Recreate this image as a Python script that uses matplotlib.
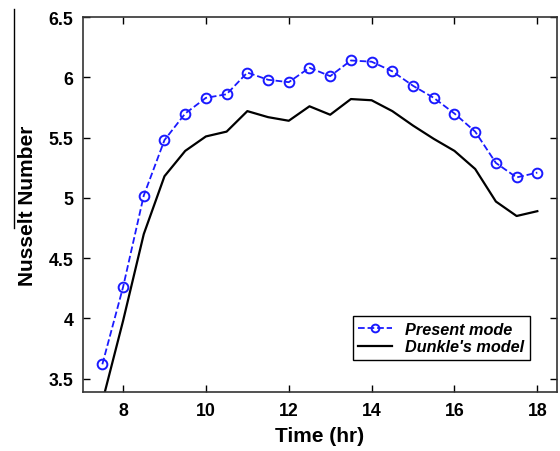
import matplotlib
matplotlib.use("Agg")
import matplotlib.pyplot as plt
from matplotlib.lines import Line2D

plt.rcParams['font.family'] = ['Liberation Sans', 'DejaVu Sans']

# time of day (hr)
hours = [7.5, 8, 8.5, 9, 9.5, 10, 10.5, 11, 11.5, 12, 12.5, 13,
         13.5, 14, 14.5, 15, 15.5, 16, 16.5, 17, 17.5, 18]

# Nusselt number, present model
nu_present = [3.62, 4.26, 5.02, 5.48, 5.70, 5.83, 5.86, 6.04, 5.98, 5.96, 6.08, 6.01,
              6.14, 6.13, 6.05, 5.93, 5.83, 5.70, 5.55, 5.29, 5.17, 5.21]

# Nusselt number, Dunkle's model
nu_dunkle = [3.31, 3.98, 4.70, 5.18, 5.39, 5.51, 5.55, 5.72, 5.67, 5.64, 5.76, 5.69,
             5.82, 5.81, 5.72, 5.60, 5.49, 5.39, 5.24, 4.97, 4.85, 4.89]

fig = plt.figure(figsize=(5.6, 4.52), dpi=100)
ax = fig.add_axes([0.148, 0.1305, 0.847, 0.8295])

ax.plot(hours, nu_present, '--', color='#1a1aff', lw=1.3, marker='o', ms=7,
        mfc='none', mec='#1a1aff', mew=1.4, label='Present mode')
ax.plot(hours, nu_dunkle, '-', color='black', lw=1.6, label="Dunkle's model")

ax.set_xlim(7.03, 18.48)
ax.set_ylim(3.39, 6.5)
ax.set_xticks([8, 10, 12, 14, 16, 18])
ax.set_yticks([3.5, 4, 4.5, 5, 5.5, 6, 6.5])
ax.set_yticklabels(['3.5', '4', '4.5', '5', '5.5', '6', '6.5'])
ax.tick_params(direction='in', top=True, right=True, length=5, width=1,
               labelsize=12.8, pad=7)
for lab in ax.get_xticklabels() + ax.get_yticklabels():
    lab.set_fontweight('bold')
for sp in ax.spines.values():
    sp.set_linewidth(1.2)
    sp.set_color('#333333')

ax.set_xlabel('Time (hr)', fontsize=15, fontweight='bold', labelpad=5)
ax.set_ylabel('Nusselt Number', fontsize=15, fontweight='bold', labelpad=8)

leg = ax.legend(loc='lower right', bbox_to_anchor=(0.943, 0.085), borderaxespad=0,
                fancybox=False, edgecolor='black', framealpha=1, borderpad=0.35,
                handlelength=2.1, labelspacing=0.15, markerscale=0.8,
                prop={'size': 11.7, 'weight': 'bold', 'style': 'italic'})
leg.get_frame().set_linewidth(1.0)

# thin stray rule beside the y label, as in the source figure
fig.add_artist(Line2D([14 / 560, 14 / 560], [1 - 10 / 452, 1 - 229 / 452],
                      color='black', lw=1.0, transform=fig.transFigure))

fig.savefig('out.png', dpi=100)
